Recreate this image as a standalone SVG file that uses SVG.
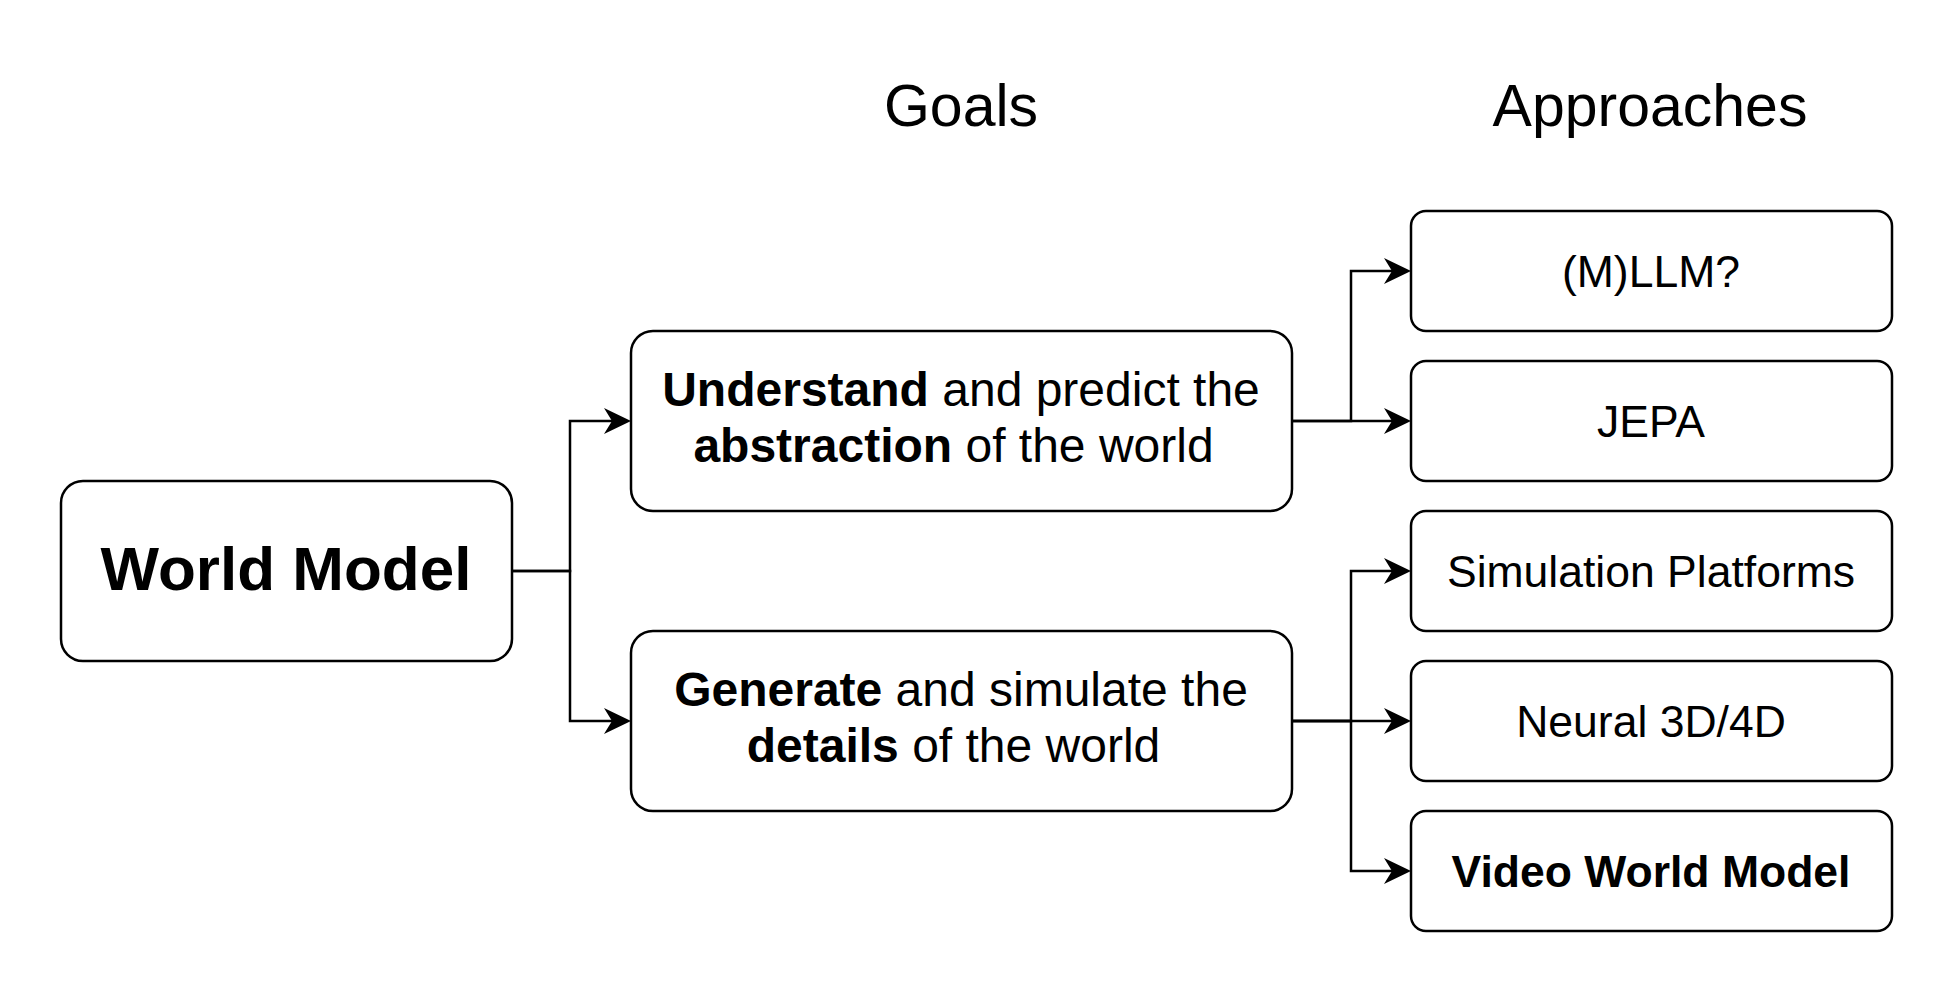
<svg xmlns="http://www.w3.org/2000/svg" width="1953" height="993" viewBox="0 0 1953 993">
<style>
  .box { fill: #ffffff; stroke: #000000; stroke-width: 2.5; }
  .edge { fill: none; stroke: #000000; stroke-width: 2.5; marker-end: url(#arrow); }
  text { font-family: "Liberation Sans", Arial, Helvetica, sans-serif; fill: #000000; text-anchor: middle; }
  .hdr { font-size: 59px; }
  .wm { font-size: 62px; font-weight: bold; }
  .goal { font-size: 48px; }
  .appr { font-size: 44.5px; }
  .b { font-weight: bold; }
</style>
<defs>
  <marker id="arrow" markerUnits="userSpaceOnUse" viewBox="0 0 27 26" markerWidth="27" markerHeight="26" refX="17" refY="13" orient="auto">
    <path d="M0,0 L27,13 L0,26 L8,13 Z" fill="#000000"/>
  </marker>
</defs>
<rect width="1953" height="993" fill="#ffffff"/>

<g id="headers">
  <text class="hdr" x="961" y="126">Goals</text>
  <text class="hdr" x="1650" y="126">Approaches</text>
</g>

<g id="connectors">
  <path class="edge" d="M512,571 H570 V421 H621"/>
  <path class="edge" d="M512,571 H570 V721 H621"/>
  <path class="edge" d="M1292,421 H1351 V271 H1401"/>
  <path class="edge" d="M1292,421 H1401"/>
  <path class="edge" d="M1292,721 H1351 V571 H1401"/>
  <path class="edge" d="M1292,721 H1401"/>
  <path class="edge" d="M1292,721 H1351 V871 H1401"/>
</g>

<g id="world-model">
  <rect class="box" x="61" y="481" width="451" height="180" rx="22" ry="22"/>
  <text class="wm" x="286" y="590">World Model</text>
</g>

<g id="goal-understand">
  <rect class="box" x="631" y="331" width="661" height="180" rx="22" ry="22"/>
  <text class="goal" x="961" y="406">
    <tspan class="b">Understand</tspan> and predict the</text>
  <text class="goal" x="953.5" y="462"><tspan class="b">abstraction</tspan> of the world</text>
</g>

<g id="goal-generate">
  <rect class="box" x="631" y="631" width="661" height="180" rx="22" ry="22"/>
  <text class="goal" x="961" y="706"><tspan class="b">Generate</tspan> and simulate the</text>
  <text class="goal" x="953.5" y="762"><tspan class="b">details</tspan> of the world</text>
</g>

<g id="approach-mllm">
  <rect class="box" x="1411" y="211" width="481" height="120" rx="15" ry="15"/>
  <text class="appr" x="1651" y="287">(M)LLM?</text>
</g>

<g id="approach-jepa">
  <rect class="box" x="1411" y="361" width="481" height="120" rx="15" ry="15"/>
  <text class="appr" x="1651" y="437">JEPA</text>
</g>

<g id="approach-simulation">
  <rect class="box" x="1411" y="511" width="481" height="120" rx="15" ry="15"/>
  <text class="appr" x="1651" y="587">Simulation Platforms</text>
</g>

<g id="approach-neural">
  <rect class="box" x="1411" y="661" width="481" height="120" rx="15" ry="15"/>
  <text class="appr" x="1651" y="737">Neural 3D/4D</text>
</g>

<g id="approach-video">
  <rect class="box" x="1411" y="811" width="481" height="120" rx="15" ry="15"/>
  <text class="appr b" x="1651" y="887">Video World Model</text>
</g>
</svg>
